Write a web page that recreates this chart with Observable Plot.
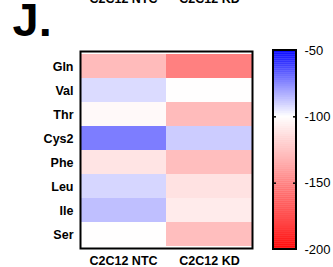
<!DOCTYPE html>
<html>
<head>
<meta charset="utf-8">
<script src="https://cdn.jsdelivr.net/npm/d3@7"></script>
<script src="https://cdn.jsdelivr.net/npm/@observablehq/plot@0.6"></script>
<style>
  html, body { margin: 0; padding: 0; background: white; }
  #wrap { position: relative; width: 333px; height: 267px; overflow: hidden; }
  #wrap svg { position: absolute; left: 0; top: 0; }
</style>
</head>
<body>
<div id="wrap"></div>
<script>
const rows = ["Gln", "Val", "Thr", "Cys2", "Phe", "Leu", "Ile", "Ser"];
const cols = ["C2C12 NTC", "C2C12 KD"];
const ntcValues = [-126.7, -93, -102.5, -74.5, -110.5, -92, -87.5, -100.5];
const kdValues = [-150, -100.5, -126.5, -90, -125.5, -111.5, -108, -125.5];
const colorTicks = [-50, -100, -150, -200];
const colorDomain = [-200, -100, -50];
const colorRange = ["#ff0000", "#ffffff", "#0000ff"];
const panelLabel = "J.";

const data = [];
rows.forEach((r, i) => {
  data.push({row: r, col: cols[0], value: ntcValues[i]});
  data.push({row: r, col: cols[1], value: kdValues[i]});
});

const font = "'Liberation Sans', Arial, sans-serif";
const colorScale = {type: "linear", domain: colorDomain, range: colorRange, interpolate: "rgb"};

const heat = Plot.plot({
  width: 333, height: 267,
  marginLeft: 80, marginRight: 81, marginTop: 51, marginBottom: 19,
  x: {domain: cols, padding: 0, axis: null},
  y: {domain: rows, padding: 0, axis: null},
  color: colorScale,
  style: {fontFamily: font, fontWeight: "bold", fontSize: "12.5px", color: "black", background: "transparent"},
  marks: [
    Plot.cell(data, {x: "col", y: "row", fill: "value"}),
    Plot.frame({stroke: "black", strokeWidth: 2}),
    Plot.axisY({tickSize: 0, tickPadding: 7, label: null, fontWeight: "bold", fontSize: 12.5}),
    Plot.axisX({anchor: "bottom", tickSize: 0, tickPadding: 8, label: null, fontWeight: "bold", fontSize: 12.5}),
    Plot.axisX({anchor: "top", tickSize: 0, tickPadding: 49, label: null, fontWeight: "bold", fontSize: 12.5}),
    Plot.text([panelLabel], {frameAnchor: "top-left", dx: -68, dy: -16, lineAnchor: "bottom", textAnchor: "start", fontSize: 47, fontWeight: "bold", text: d => d})
  ]
});

const stripes = d3.range(colorDomain[0], colorDomain[2], 0.5);
const bar = Plot.plot({
  width: 333, height: 267,
  x: {domain: [0, 1], range: [273, 296], axis: null},
  y: {domain: [colorDomain[0], colorDomain[2]], range: [249, 50], axis: null},
  color: colorScale,
  style: {fontFamily: font, fontSize: "13px", color: "black", background: "transparent"},
  marks: [
    Plot.rect(stripes, {x1: 0, x2: 1, y1: d => d, y2: d => d + 0.7, fill: d => d + 0.25}),
    Plot.rect([0], {x1: 0, x2: 1, y1: colorDomain[0], y2: colorDomain[2], fill: "none", stroke: "black", strokeWidth: 2}),
    Plot.ruleY(colorTicks.slice(1, 3), {x1: 0, x2: 0.13, stroke: "black", strokeWidth: 1.5}),
    Plot.ruleY(colorTicks.slice(1, 3), {x1: 0.87, x2: 1, stroke: "black", strokeWidth: 1.5}),
    Plot.text(colorTicks, {x: 1, y: d => d, dx: 8, textAnchor: "start", text: d => String(d), fontSize: 13})
  ]
});

const wrap = document.getElementById("wrap");
wrap.appendChild(heat);
wrap.appendChild(bar);
</script>
</body>
</html>
